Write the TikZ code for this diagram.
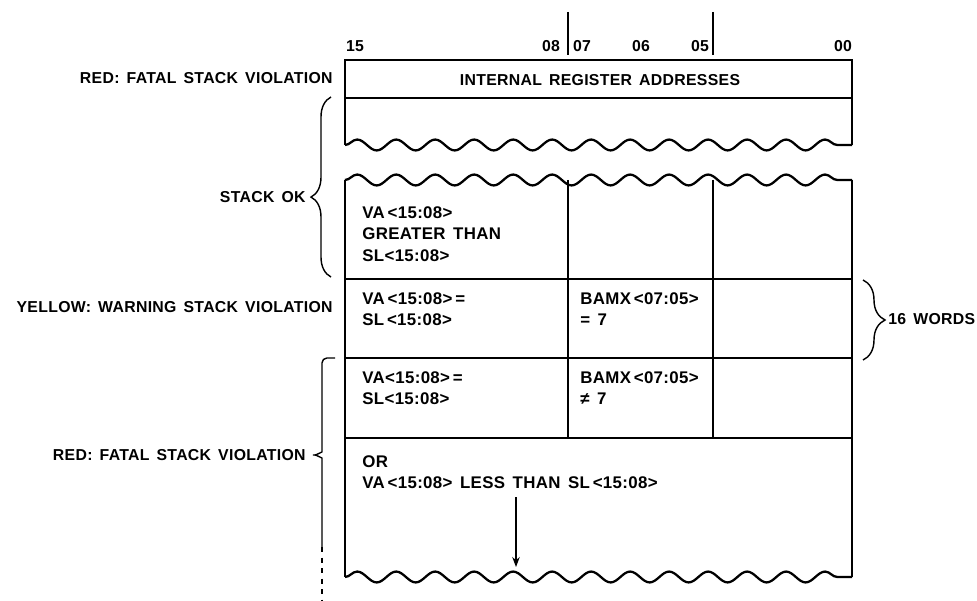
\documentclass[tikz,border=0pt]{standalone}
\usepackage{fontspec}
\setmainfont[LetterSpace=2,WordSpace=1.5]{Liberation Sans}
\usetikzlibrary{arrows.meta,decorations.pathreplacing,decorations.pathmorphing}
\tikzset{>=Stealth,every node/.style={font=\bfseries\fontsize{9}{11.5}\selectfont,inner sep=0pt},cell/.style={anchor=north west,align=left,font=\bfseries\fontsize{9.6}{12.3}\selectfont},frame/.style={line width=1.3pt},rule/.style={line width=.8pt},wave/.style={line width=1.3pt,decorate,decoration={snake,amplitude=3.1pt,segment length=.78cm}},brc/.style={thick,decorate,decoration={brace,amplitude=.4cm}}}

\begin{document}
\begin{tikzpicture}[x=.02cm,y=-.02cm]
\useasboundingbox (0,0) rectangle (977,601);
% bit numbers
\foreach \n/\x in {15/355,08/551,07/582,06/641,05/700,00/843}{\node (b\n) at (\x,46) {\n};}
\draw[semithick] (568,12)--(568,55);\draw[thick] (713,12)--(713,55);
% top part of the stack
\draw[frame] (345,145)--(345,60)--(852,60)--(852,145);\draw[wave] (345,145)--(852,145);
\draw[rule] (345,98)--(852,98);
\node (ira) at (600,80) {INTERNAL REGISTER ADDRESSES};
% lower part of the stack
\draw[wave] (345,180)--(852,180);\draw[frame] (345,180)--(345,577);\draw[frame] (852,180)--(852,577);\draw[wave] (345,577)--(852,577);
\foreach \y in {279,358,438}{\draw[rule] (345,\y)--(852,\y);}
\foreach \x in {568,713}{\draw[rule] (\x,180)--(\x,438);}
\node[cell] (gt) at (362,206) {VA\,<15:08>\\GREATER THAN\\SL<15:08>};
\node[cell] (eqa) at (362,292) {VA\,<15:08>\,=\\SL\,<15:08>};
\node[cell] (bmx) at (580,292) {BAMX\,<07:05>\\= 7};
\node[cell] (eqb) at (362,371) {VA<15:08>\,=\\SL<15:08>};
\node[cell] (bmy) at (580,371) {BAMX\,<07:05>\\≠ 7};
\node[cell] (lt) at (362,455) {OR\\VA\,<15:08> LESS THAN SL\,<15:08>};
\coordinate (atop) at (516,497);\coordinate (abot) at (516,567);
\draw[->,semithick] (atop)--(abot);
% labels and braces
\node[anchor=east] (red1) at (333,78) {RED: FATAL STACK VIOLATION};
\node[anchor=east] (ok) at (306,197) {STACK OK};
\node[anchor=east] (yel) at (333,307) {YELLOW: WARNING STACK VIOLATION};
\node[anchor=east] (red2) at (306,455) {RED: FATAL STACK VIOLATION};
\node[anchor=west] (w16) at (888,319) {16 WORDS};
\draw[brc,decoration={aspect=.444}] (331,277)--(331,97);
\draw[brc,decoration={amplitude=.44cm}] (863,280)--(863,360);
\draw[thick,rounded corners=2.8pt] (335,358)--(322,358)--(322,447) .. controls (322,452) and (316,455) .. (310,455) .. controls (316,455) and (322,458) .. (322,463)--(322,547);
\draw[thick,dashed] (322,547)--(322,601);
\end{tikzpicture}
\end{document}
